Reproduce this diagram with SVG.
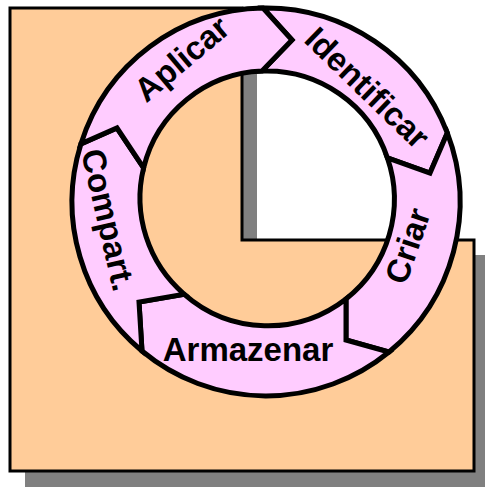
<svg xmlns="http://www.w3.org/2000/svg" width="485" height="487" viewBox="0 0 485 487">
<style>
.seg{fill:#FFCCFF;stroke:#000;stroke-width:5;stroke-linejoin:miter}
.lbl{font-family:"Liberation Sans",Arial,sans-serif;font-weight:bold;font-size:33px;fill:#000;text-anchor:middle}
</style>
<rect x="0" y="0" width="485" height="487" fill="#FFFFFF"/>
<g id="background">
<polygon points="25,23 257,23 257,255 490,255 490,490 25,490" fill="#808080"/>
<polygon points="10,8 242,8 242,240 474,240 474,471 10,471" fill="#FFCC99" stroke="#000" stroke-width="3"/>
</g>
<g id="connectors"></g>
<g id="identificar">
<path class="seg" d="M263,8 A194,194 0 0 1 447.3,132.9 L430,173 L387.4,157.9 A127,127 0 0 0 262,71.1 L292,40 Z"/>
<text class="lbl" transform="translate(367,88) rotate(44)" x="0" y="11">Identificar</text>
</g>
<g id="criar">
<path class="seg" d="M447.3,132.9 A194,194 0 0 1 389,352 L346,340 L346,299 A127,127 0 0 0 387.4,157.9 L430,173 Z"/>
<text class="lbl" transform="translate(408,246) rotate(-71)" x="0" y="11">Criar</text>
</g>
<g id="armazenar">
<path class="seg" d="M389,352 A194,194 0 0 1 142,351 L139,302 L184.3,294.3 A127,127 0 0 0 346,299 L346,340 Z"/>
<text class="lbl" transform="translate(248,350)" x="0" y="11">Armazenar</text>
</g>
<g id="compart">
<path class="seg" d="M142,351 A194,194 0 0 1 80.9,143.9 L117,128 L143.6,167.9 A127,127 0 0 0 184.3,294.3 L139,302 Z"/>
<text class="lbl" transform="translate(108,220) rotate(77)" x="0" y="11">Compart.</text>
</g>
<g id="aplicar">
<path class="seg" d="M80.9,143.9 A194,194 0 0 1 263,8 L292,40 L262,71.1 A127,127 0 0 0 143.6,167.9 L117,128 Z"/>
<text class="lbl" transform="translate(182,59) rotate(-40)" x="0" y="11">Aplicar</text>
</g>
</svg>
